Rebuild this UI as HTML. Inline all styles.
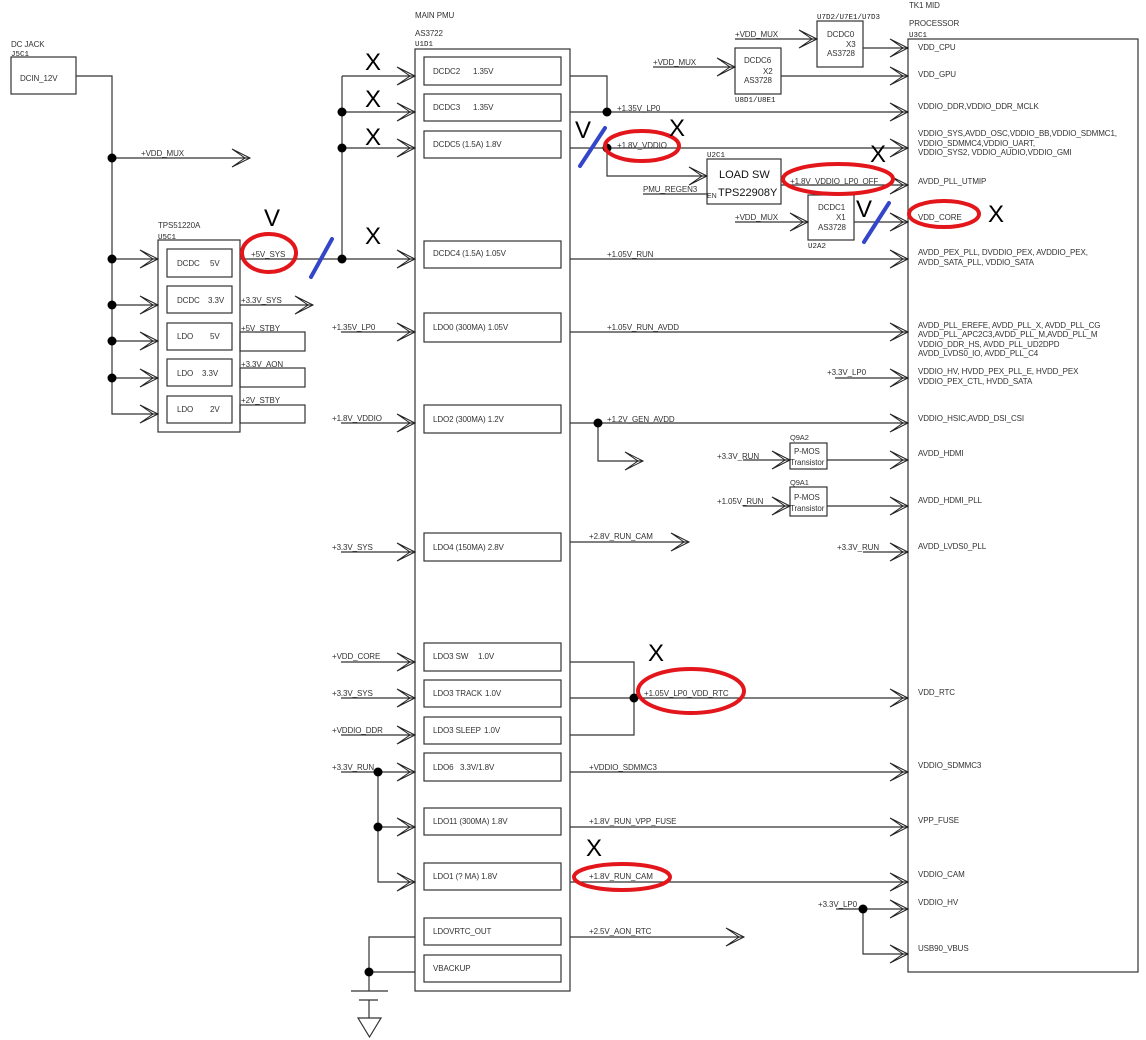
<!DOCTYPE html>
<html><head><meta charset="utf-8"><style>
html,body{margin:0;padding:0;background:#fff;}
svg{display:block;}
text{font-family:"Liberation Sans",Arial,sans-serif;font-size:8px;letter-spacing:-0.1px;fill:#333;}
.m{font-family:"Liberation Mono",monospace;font-size:7.5px;letter-spacing:0;fill:#222;}
.b{font-size:24px;letter-spacing:0;fill:#000;text-anchor:middle;}
.ls{font-size:11px;letter-spacing:0;fill:#111;}
</style></head><body>
<svg width="1146" height="1040" viewBox="0 0 1146 1040" xmlns="http://www.w3.org/2000/svg">
<defs><polygon id="a" points="-18,-9 0,0 -18,9 -5,0" fill="none" stroke="#222" stroke-width="1"/></defs>

<g fill="none" stroke="#333" stroke-width="1.2">
<rect x="11" y="57" width="65" height="37"/>
<path d="M76,76H112V414H158M112,158H250M112,259H158M112,305H158M112,341H158M112,378H158"/>
<rect x="158" y="240" width="82" height="192"/>
<rect x="167" y="249" width="65" height="28"/>
<rect x="167" y="286" width="65" height="27"/>
<rect x="167" y="323" width="65" height="27"/>
<rect x="167" y="359" width="65" height="27"/>
<rect x="167" y="396" width="65" height="27"/>
<path d="M240,259H415M240,305H313"/>
<rect x="240" y="332" width="65" height="19"/>
<rect x="240" y="368" width="65" height="19"/>
<rect x="240" y="405" width="65" height="18"/>
<path d="M342,76V259M342,76H415M342,112H415M342,148H415"/>
<rect x="415" y="49" width="155" height="942"/>
<rect x="424" y="57" width="137" height="28"/>
<rect x="424" y="94" width="137" height="27"/>
<rect x="424" y="131" width="137" height="27"/>
<rect x="424" y="241" width="137" height="27"/>
<rect x="424" y="313" width="137" height="29"/>
<rect x="424" y="405" width="137" height="28"/>
<rect x="424" y="533" width="137" height="28"/>
<rect x="424" y="643" width="137" height="28"/>
<rect x="424" y="680" width="137" height="27"/>
<rect x="424" y="717" width="137" height="27"/>
<rect x="424" y="753" width="137" height="28"/>
<rect x="424" y="808" width="137" height="27"/>
<rect x="424" y="863" width="137" height="27"/>
<rect x="424" y="918" width="137" height="27"/>
<rect x="424" y="955" width="137" height="27"/>
<path d="M341,332H415M341,423H415M341,552H415M341,662H415M341,698H415M341,735H415M341,772H415M378,772V882H415M378,827H415"/>
<path d="M415,937H369V991M369,972H415M351,991H388M359,1000H378M369,1000V1018"/>
<polygon points="358,1018 381,1018 369.5,1037"/>
<path d="M570,76H607V112M570,112H908M570,148H908M607,148V176H707M643,194H707M781,185H908"/>
<rect x="707" y="159" width="74" height="45"/>
<rect x="808" y="195" width="46" height="45"/>
<path d="M735,222H808M854,222H908"/>
<rect x="735" y="48" width="46" height="46"/>
<path d="M653,67H735M781,76H908"/>
<rect x="817" y="21" width="46" height="46"/>
<path d="M735,39H817M863,48H908"/>
<path d="M570,259H908M570,332H908M570,423H908M598,423V461H643"/>
<path d="M743,460H790M827,460H908M743,506H790M827,506H908"/>
<rect x="790" y="443" width="37" height="26"/>
<rect x="790" y="487" width="37" height="29"/>
<path d="M570,542H689M835,378H908M863,552H908"/>
<path d="M570,662H634V735H570M570,698H908M570,772H908M570,827H908M570,882H908M570,937H744"/>
<path d="M836,909H908M863,909V954H908"/>
<rect x="908" y="39" width="230" height="933"/>
</g>

<g>
<use href="#a" x="250" y="158"/>
<use href="#a" x="158" y="259"/><use href="#a" x="158" y="305"/><use href="#a" x="158" y="341"/><use href="#a" x="158" y="378"/><use href="#a" x="158" y="414"/>
<use href="#a" x="313" y="305"/>
<use href="#a" x="415" y="76"/><use href="#a" x="415" y="112"/><use href="#a" x="415" y="148"/><use href="#a" x="415" y="259"/>
<use href="#a" x="415" y="332"/><use href="#a" x="415" y="423"/><use href="#a" x="415" y="552"/><use href="#a" x="415" y="662"/>
<use href="#a" x="415" y="698"/><use href="#a" x="415" y="735"/><use href="#a" x="415" y="772"/><use href="#a" x="415" y="827"/><use href="#a" x="415" y="882"/>
<use href="#a" x="707" y="176"/><use href="#a" x="808" y="222"/><use href="#a" x="735" y="67"/><use href="#a" x="817" y="39"/>
<use href="#a" x="643" y="461"/><use href="#a" x="689" y="542"/><use href="#a" x="744" y="937"/>
<use href="#a" x="790" y="460"/><use href="#a" x="790" y="506"/>
<use href="#a" x="908" y="48"/><use href="#a" x="908" y="76"/><use href="#a" x="908" y="112"/><use href="#a" x="908" y="148"/>
<use href="#a" x="908" y="185"/><use href="#a" x="908" y="222"/><use href="#a" x="908" y="259"/><use href="#a" x="908" y="332"/>
<use href="#a" x="908" y="378"/><use href="#a" x="908" y="423"/><use href="#a" x="908" y="460"/><use href="#a" x="908" y="506"/>
<use href="#a" x="908" y="552"/><use href="#a" x="908" y="698"/><use href="#a" x="908" y="772"/><use href="#a" x="908" y="827"/>
<use href="#a" x="908" y="882"/><use href="#a" x="908" y="909"/><use href="#a" x="908" y="954"/>
</g>

<g fill="#000">
<circle cx="112" cy="158" r="4.5"/><circle cx="112" cy="259" r="4.5"/><circle cx="112" cy="305" r="4.5"/><circle cx="112" cy="341" r="4.5"/><circle cx="112" cy="378" r="4.5"/>
<circle cx="342" cy="112" r="4.5"/><circle cx="342" cy="148" r="4.5"/><circle cx="342" cy="259" r="4.5"/>
<circle cx="607" cy="112" r="4.5"/><circle cx="607" cy="148" r="4.5"/><circle cx="598" cy="423" r="4.5"/>
<circle cx="634" cy="698" r="4.5"/><circle cx="378" cy="772" r="4.5"/><circle cx="378" cy="827" r="4.5"/>
<circle cx="369" cy="972" r="4.5"/><circle cx="863" cy="909" r="4.5"/>
</g>

<text x="11" y="47">DC JACK</text>
<text class="m" x="11" y="56">J5C1</text>
<text x="20" y="81">DCIN_12V</text>
<text x="141" y="156">+VDD_MUX</text>
<text x="158" y="228">TPS51220A</text>
<text class="m" x="158" y="239">U5C1</text>
<text x="177" y="266">DCDC</text><text x="210" y="266">5V</text>
<text x="177" y="303">DCDC</text><text x="208" y="303">3.3V</text>
<text x="177" y="339">LDO</text><text x="210" y="339">5V</text>
<text x="177" y="376">LDO</text><text x="202" y="376">3.3V</text>
<text x="177" y="412">LDO</text><text x="210" y="412">2V</text>
<text x="251" y="257">+5V_SYS</text>
<text x="241" y="303">+3.3V_SYS</text>
<text x="241" y="331">+5V_STBY</text>
<text x="241" y="367">+3.3V_AON</text>
<text x="241" y="403">+2V_STBY</text>

<text x="415" y="18">MAIN PMU</text>
<text x="415" y="36">AS3722</text>
<text class="m" x="415" y="46">U1D1</text>
<text x="433" y="74">DCDC2</text><text x="473" y="74">1.35V</text>
<text x="433" y="110">DCDC3</text><text x="473" y="110">1.35V</text>
<text x="433" y="147">DCDC5 (1.5A) 1.8V</text>
<text x="433" y="256">DCDC4 (1.5A) 1.05V</text>
<text x="433" y="330">LDO0 (300MA) 1.05V</text>
<text x="433" y="422">LDO2 (300MA) 1.2V</text>
<text x="433" y="550">LDO4 (150MA) 2.8V</text>
<text x="433" y="659">LDO3 SW</text><text x="478" y="659">1.0V</text>
<text x="433" y="696">LDO3 TRACK</text><text x="485" y="696">1.0V</text>
<text x="433" y="733">LDO3 SLEEP</text><text x="484" y="733">1.0V</text>
<text x="433" y="770">LDO6</text><text x="460" y="770">3.3V/1.8V</text>
<text x="433" y="824">LDO11 (300MA) 1.8V</text>
<text x="433" y="879">LDO1 (? MA) 1.8V</text>
<text x="433" y="934">LDOVRTC_OUT</text>
<text x="433" y="971">VBACKUP</text>

<text x="332" y="330">+1.35V_LP0</text>
<text x="332" y="421">+1.8V_VDDIO</text>
<text x="332" y="550">+3.3V_SYS</text>
<text x="332" y="659">+VDD_CORE</text>
<text x="332" y="696">+3.3V_SYS</text>
<text x="332" y="733">+VDDIO_DDR</text>
<text x="332" y="770">+3.3V_RUN</text>

<text x="617" y="111">+1.35V_LP0</text>
<text x="617" y="148">+1.8V_VDDIO</text>
<text x="607" y="257">+1.05V_RUN</text>
<text x="607" y="330">+1.05V_RUN_AVDD</text>
<text x="607" y="422">+1.2V_GEN_AVDD</text>
<text x="589" y="539">+2.8V_RUN_CAM</text>
<text x="644" y="696">+1.05V_LP0_VDD_RTC</text>
<text x="589" y="770">+VDDIO_SDMMC3</text>
<text x="589" y="824">+1.8V_RUN_VPP_FUSE</text>
<text x="589" y="879">+1.8V_RUN_CAM</text>
<text x="589" y="934">+2.5V_AON_RTC</text>

<text class="m" x="817" y="19">U7D2/U7E1/U7D3</text>
<text x="735" y="37">+VDD_MUX</text>
<text x="827" y="37">DCDC0</text><text x="846" y="47">X3</text><text x="827" y="56">AS3728</text>
<text x="653" y="65">+VDD_MUX</text>
<text x="744" y="63">DCDC6</text><text x="763" y="74">X2</text><text x="744" y="83">AS3728</text>
<text class="m" x="735" y="102">U8D1/U8E1</text>
<text class="m" x="707" y="157">U2C1</text>
<text class="ls" x="719" y="178">LOAD SW</text>
<text class="ls" x="718" y="196">TPS22908Y</text>
<text x="707" y="198" style="font-size:7px">EN</text>
<text x="643" y="192">PMU_REGEN3</text>
<text x="790" y="184">+1.8V_VDDIO_LP0_OFF</text>
<text x="818" y="210">DCDC1</text><text x="836" y="220">X1</text><text x="818" y="230">AS3728</text>
<text class="m" x="808" y="248">U2A2</text>
<text x="735" y="220">+VDD_MUX</text>

<text x="790" y="440" style="font-size:7.5px">Q9A2</text>
<text x="794" y="454">P-MOS</text>
<text x="790" y="465">Transistor</text>
<text x="717" y="459">+3.3V_RUN</text>
<text x="790" y="485" style="font-size:7.5px">Q9A1</text>
<text x="794" y="500">P-MOS</text>
<text x="790" y="511">Transistor</text>
<text x="717" y="504">+1.05V_RUN</text>
<text x="827" y="375">+3.3V_LP0</text>
<text x="837" y="550">+3.3V_RUN</text>
<text x="818" y="907">+3.3V_LP0</text>

<text x="909" y="8">TK1 MID</text>
<text x="909" y="26">PROCESSOR</text>
<text class="m" x="909" y="37">U3C1</text>
<text x="918" y="50">VDD_CPU</text>
<text x="918" y="77">VDD_GPU</text>
<text x="918" y="109">VDDIO_DDR,VDDIO_DDR_MCLK</text>
<text x="918" y="136">VDDIO_SYS,AVDD_OSC,VDDIO_BB,VDDIO_SDMMC1,</text>
<text x="918" y="146">VDDIO_SDMMC4,VDDIO_UART,</text>
<text x="918" y="155">VDDIO_SYS2, VDDIO_AUDIO,VDDIO_GMI</text>
<text x="918" y="184">AVDD_PLL_UTMIP</text>
<text x="918" y="220">VDD_CORE</text>
<text x="918" y="255">AVDD_PEX_PLL, DVDDIO_PEX, AVDDIO_PEX,</text>
<text x="918" y="265">AVDD_SATA_PLL, VDDIO_SATA</text>
<text x="918" y="328">AVDD_PLL_EREFE, AVDD_PLL_X, AVDD_PLL_CG</text>
<text x="918" y="337">AVDD_PLL_APC2C3,AVDD_PLL_M,AVDD_PLL_M</text>
<text x="918" y="347">VDDIO_DDR_HS, AVDD_PLL_UD2DPD</text>
<text x="918" y="356">AVDD_LVDS0_IO, AVDD_PLL_C4</text>
<text x="918" y="374">VDDIO_HV, HVDD_PEX_PLL_E, HVDD_PEX</text>
<text x="918" y="384">VDDIO_PEX_CTL, HVDD_SATA</text>
<text x="918" y="421">VDDIO_HSIC,AVDD_DSI_CSI</text>
<text x="918" y="456">AVDD_HDMI</text>
<text x="918" y="503">AVDD_HDMI_PLL</text>
<text x="918" y="549">AVDD_LVDS0_PLL</text>
<text x="918" y="695">VDD_RTC</text>
<text x="918" y="768">VDDIO_SDMMC3</text>
<text x="918" y="823">VPP_FUSE</text>
<text x="918" y="877">VDDIO_CAM</text>
<text x="918" y="905">VDDIO_HV</text>
<text x="918" y="951">USB90_VBUS</text>

<g fill="none" stroke="#e3161b" stroke-width="4">
<ellipse cx="269" cy="253" rx="27" ry="19"/>
<ellipse cx="642" cy="146" rx="37" ry="15"/>
<ellipse cx="838" cy="179" rx="55" ry="15"/>
<ellipse cx="944" cy="214" rx="35" ry="13"/>
<ellipse cx="691" cy="691" rx="53" ry="22"/>
<ellipse cx="622" cy="877" rx="48" ry="13"/>
</g>
<g stroke="#3345c8" stroke-width="4" stroke-linecap="round">
<line x1="311" y1="277" x2="332" y2="239"/>
<line x1="580" y1="166" x2="605" y2="128"/>
<line x1="864" y1="242" x2="889" y2="203"/>
</g>
<g>
<text class="b" x="373" y="70">X</text>
<text class="b" x="373" y="107">X</text>
<text class="b" x="373" y="145">X</text>
<text class="b" x="373" y="244">X</text>
<text class="b" x="272" y="226">V</text>
<text class="b" x="583" y="138">V</text>
<text class="b" x="677" y="136">X</text>
<text class="b" x="878" y="162">X</text>
<text class="b" x="864" y="217">V</text>
<text class="b" x="996" y="222">X</text>
<text class="b" x="656" y="661">X</text>
<text class="b" x="594" y="856">X</text>
</g>
</svg>
</body></html>
